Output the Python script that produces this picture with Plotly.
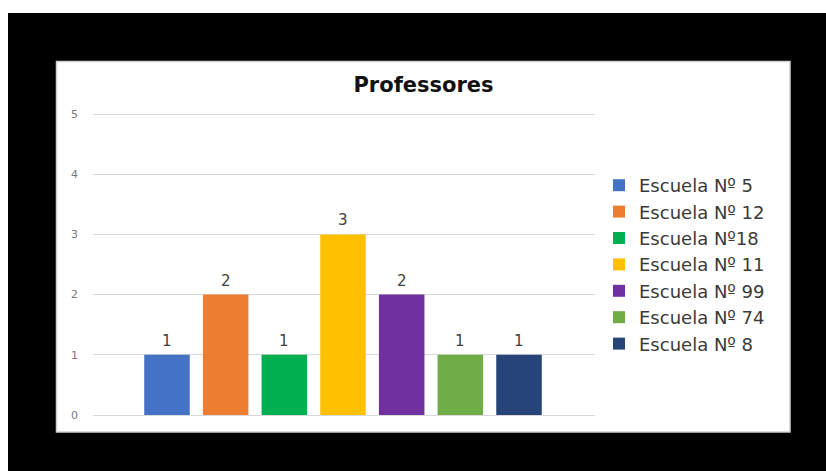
import plotly.graph_objects as go

# Number of teachers per school
schools = ["Escuela Nº 5", "Escuela Nº 12", "Escuela Nº18", "Escuela Nº 11",
           "Escuela Nº 99", "Escuela Nº 74", "Escuela Nº 8"]
teachers = [1, 2, 1, 3, 2, 1, 1]
colors = ["#4472C4", "#ED7D31", "#00B050", "#FFC000", "#7030A0", "#70AD47", "#264478"]
y_ticks = [0, 1, 2, 3, 4, 5]

W, H = 826, 471
L, R, T, B = 93, 595, 112, 415  # plot area in pixels
Y_TOP = 5 * (B - T) / 301       # keeps 1 unit = 60.2 px, leaves room for the top gridline


def px_x(px):
    return (px - L) / (R - L)


def px_y(py):
    return (B - py) / (B - T)


fig = go.Figure()
for name, val, col in zip(schools, teachers, colors):
    fig.add_trace(go.Bar(
        x=[name], y=[val], name=name, marker_color=col,
        marker_line_width=0, width=0.776, hoverinfo="x+y",
    ))

# value labels above the bars
annotations = [
    dict(x=name, y=val, xref="x", yref="y", text=str(val), showarrow=False,
         yanchor="middle", yshift=14,
         font=dict(family="DejaVu Sans", size=15, color="#404040"))
    for name, val in zip(schools, teachers)
]

shapes = [
    # white strips along the top and left edges
    dict(type="rect", xref="paper", yref="paper", layer="below",
         x0=px_x(0), x1=px_x(W), y0=px_y(0), y1=px_y(13),
         fillcolor="white", line_width=0),
    dict(type="rect", xref="paper", yref="paper", layer="below",
         x0=px_x(0), x1=px_x(8), y0=px_y(0), y1=px_y(H),
         fillcolor="white", line_width=0),
    # white chart panel
    dict(type="rect", xref="paper", yref="paper", layer="below",
         x0=px_x(56.5), x1=px_x(790), y0=px_y(61.5), y1=px_y(432),
         fillcolor="white", line=dict(color="#d0d0d0", width=1.5)),
]

fig.update_layout(
    width=W, height=H,
    margin=dict(l=L, r=W - R, t=T, b=H - B, pad=0),
    paper_bgcolor="black",
    plot_bgcolor="rgba(0,0,0,0)",
    barmode="overlay",
    title=dict(text="<b>Professores</b>", x=423.5 / W, xanchor="center",
               xref="container", y=1 - 85 / H, yanchor="middle",
               font=dict(family="DejaVu Sans", size=21, color="#111111")),
    xaxis=dict(type="category", range=[-1.261, 7.295], showticklabels=False,
               showgrid=False, zeroline=False, showline=False, ticks=""),
    yaxis=dict(range=[0, Y_TOP], tickvals=y_ticks, showgrid=True,
               gridcolor="#d9d9d9", gridwidth=1, zeroline=True,
               zerolinecolor="#d9d9d9", zerolinewidth=1, showline=False,
               ticks="", ticklabelstandoff=14,
               tickfont=dict(family="DejaVu Sans", size=11, color="#7a7a7a")),
    legend=dict(x=px_x(599), xanchor="left", y=px_y(264.5), yanchor="middle",
                font=dict(family="DejaVu Sans", size=18, color="#3a3a3a"),
                bgcolor="rgba(0,0,0,0)", borderwidth=0),
    annotations=annotations,
    shapes=shapes,
    showlegend=True,
)

fig.write_html("out.html")
